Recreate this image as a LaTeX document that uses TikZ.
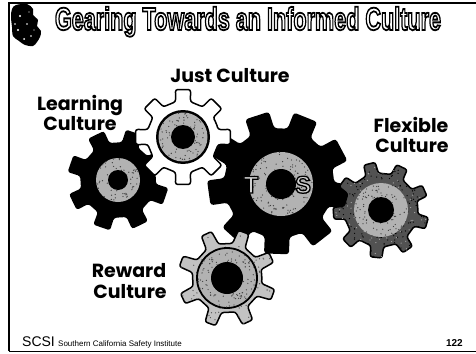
\documentclass[tikz,border=0pt]{standalone}
\usepackage{fontspec}
\setmainfont{Liberation Sans}
\newfontfamily\labelfont{Poppins}
\newfontfamily\titlefont{Liberation Sans}

% closed gear outline: center x, center y, teeth, tip radius, root radius,
% angle of first tooth, tip half-angle, root half-angle
\newcommand\gearpath[8]{%
  ({#1+#5*cos(#6-180/#3)},{#2+#5*sin(#6-180/#3)})
  \foreach \k in {1,...,#3}{
    -- ({#1+#5*cos(#6+(\k-1)*360/#3-#8)},{#2+#5*sin(#6+(\k-1)*360/#3-#8)})
    -- ({#1+#4*cos(#6+(\k-1)*360/#3-#7)},{#2+#4*sin(#6+(\k-1)*360/#3-#7)})
    -- ({#1+#4*cos(#6+(\k-1)*360/#3+#7)},{#2+#4*sin(#6+(\k-1)*360/#3+#7)})
    -- ({#1+#5*cos(#6+(\k-1)*360/#3+#8)},{#2+#5*sin(#6+(\k-1)*360/#3+#8)})
  } -- cycle}

% grain: small random dots inside an annulus (cx, cy, inner r, outer r, count, colour)
\newcommand\grain[6]{%
  \foreach \i in {1,...,#5}{
    \pgfmathsetmacro\ga{360*rnd}
    \pgfmathsetmacro\gr{sqrt(#3*#3+(#4*#4-#3*#3)*rnd)}
    \fill[#6] ({#1+\gr*cos(\ga)},{#2+\gr*sin(\ga)}) circle[radius=0.65];
  }}

% hollow lettering: fill in the node's text colour, black stroke of width #1
\newcommand\hollow[2]{\special{pdf:literal direct 2 Tr #1 w 0 G}#2\special{pdf:literal direct 0 Tr}}

\tikzset{
  gearlabel/.style={font=\labelfont\bfseries\fontsize{19}{19}\selectfont,
    anchor=base, inner sep=0pt},
  titletext/.style={font=\titlefont\bfseries\fontsize{32}{32}\selectfont,
    anchor=base, inner sep=0pt, xscale=0.675},
  hubletter/.style={font=\bfseries\fontsize{24}{24}\selectfont, anchor=base, inner sep=0pt},
  hubgray/.style={fill=black!30},
  gearline/.style={draw=black, line width=1.5pt, line join=round, rounded corners=2.2pt},
}

\begin{document}
\begin{tikzpicture}[x=1pt,y=-1pt]
\pgfmathsetseed{4242}
\useasboundingbox (0,0) rectangle (476,353);
\fill[white] (0,0) rectangle (476,353);

% slide frame
\draw[line width=1.8pt] (9,351) -- (9,3) -- (476,3);
\draw[line width=0.8pt] (9,351) -- (476,351);

% emblem in the corner
\fill[black] plot[smooth cycle, tension=0.55] coordinates {
  (16,5) (27,4) (33,9) (33,15) (38,20) (37,26) (41,31) (40,37)
  (37,42) (33,46) (25,45) (19,41) (13,36) (12,27) (11,17) (12,9)};
\fill[white] (20,16) circle[radius=1.1] (27,24) circle[radius=0.9]
  (18,30) circle[radius=1.2] (31,36) circle[radius=0.8] (24,39) circle[radius=1]
  (29,12) circle[radius=0.7] (15,24) circle[radius=0.8] (34,30) circle[radius=0.7];

% outlined heading
\node[titletext, text=white] (title) at (248,30) {\hollow{1.8}{Gearing Towards an Informed Culture}};

% large black gear with the TOS hub
\fill[black, rounded corners=3pt] \gearpath{279}{183}{9}{72}{55}{12}{10}{13};
\fill[hubgray] (281,184) circle[radius=32];
\grain{281}{184}{15}{32}{110}{black!75}
\fill[black] (281,184) circle[radius=15];
\node[hubletter, text=black!18] (tos-t) at (251,193) {\hollow{1.3}{T}};
\node[hubletter, text=black!18] (tos-s) at (303,193) {\hollow{1.3}{S}};

% learning gear (solid black)
\fill[black, rounded corners=2.5pt] \gearpath{118}{180}{8}{51}{38}{19}{10}{13};
\fill[hubgray] (118,180) circle[radius=22];
\grain{118}{180}{10}{22}{55}{black!75}
\fill[black] (118,180) circle[radius=10];

% just gear (white, outlined)
\filldraw[fill=white, gearline] \gearpath{183}{137}{8}{48}{36}{0}{9}{12};
\fill[black] (183,137) circle[radius=27];
\fill[hubgray] (183,137) circle[radius=24.5];
\grain{183}{137}{12}{24.5}{70}{black!75}
\fill[black] (183,137) circle[radius=12];

% flexible gear (dark grey)
\filldraw[fill=black!68, gearline] \gearpath{381}{210}{9}{48}{37}{16}{7}{10};
\begin{scope}
  \clip \gearpath{381}{210}{9}{48}{37}{16}{7}{10};
  \grain{381}{210}{26}{48}{160}{black}
  \grain{381}{210}{26}{48}{70}{black!35}
\end{scope}
\fill[hubgray] (381,210) circle[radius=27];
\grain{381}{210}{13}{27}{80}{black!75}
\fill[black] (381,210) circle[radius=13];

% reward gear (light grey)
\filldraw[fill=black!24, gearline] \gearpath{227}{278}{8}{49}{35}{20}{6.5}{11};
\begin{scope}
  \clip \gearpath{227}{278}{8}{49}{35}{20}{6.5}{11};
  \grain{227}{278}{30}{49}{110}{black!70}
\end{scope}
\draw[line width=1.8pt, fill=black!30] (227,278) circle[radius=30];
\grain{227}{278}{16}{29}{90}{black!75}
\fill[black] (227,278) circle[radius=16];

% gear captions
\node[gearlabel] (just) at (230,82) {Just Culture};
\node[gearlabel] (learning-1) at (80,110) {Learning};
\node[gearlabel] (learning-2) at (80,130) {Culture};
\node[gearlabel] (flexible-1) at (411,132) {Flexible};
\node[gearlabel] (flexible-2) at (412,152) {Culture};
\node[gearlabel] (reward-1) at (129,277) {Reward};
\node[gearlabel] (reward-2) at (130,298) {Culture};

% footer
\node[font=\fontsize{14}{14}\selectfont, anchor=base west, inner sep=0pt] (scsi) at (22,346) {SCSI};
\node[font=\fontsize{8}{8}\selectfont, anchor=base west, inner sep=0pt] (institute) at (58,346)
  {Southern California Safety Institute};
\node[font=\bfseries\fontsize{10}{10}\selectfont, anchor=base east, inner sep=0pt] (page) at (463,346) {122};
\end{tikzpicture}
\end{document}
